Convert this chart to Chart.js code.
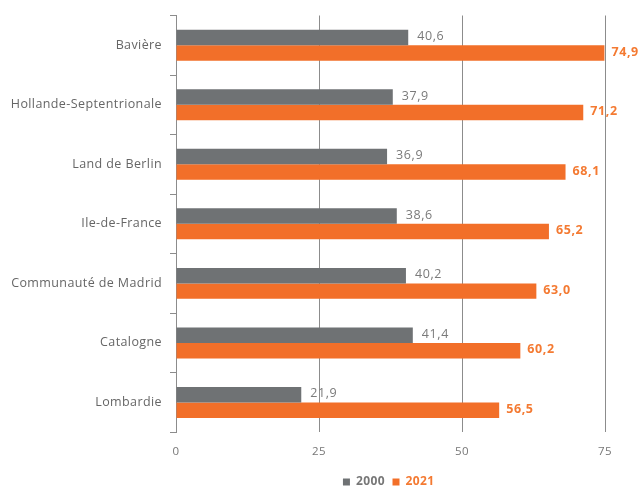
<!DOCTYPE html>
<html>
<head>
<meta charset="utf-8">
<style>
  html, body { margin: 0; padding: 0; background: #fff; }
  #wrap { width: 643px; height: 487px; position: relative; }
</style>
<script src="https://cdn.jsdelivr.net/npm/chart.js@4"></script>
</head>
<body>
<div id="wrap"><canvas id="chart"></canvas></div>
<script>
'use strict';

const regions = ['Bavière', 'Hollande-Septentrionale', 'Land de Berlin', 'Ile-de-France',
  'Communauté de Madrid', 'Catalogne', 'Lombardie'];
const values2000 = [40.6, 37.9, 36.9, 38.6, 40.2, 41.4, 21.9];
const values2021 = [74.9, 71.2, 68.1, 65.2, 63.0, 60.2, 56.5];
const xTicks = [0, 25, 50, 75];

const grey = '#6f7274';
const orange = '#f26f29';
const font = 'Open Sans';

// the text in the source is a bit spaced out
const spacing = {
  id: 'spacing',
  beforeLayout(chart) { chart.ctx.letterSpacing = '0.4px'; },
  beforeDraw(chart) { chart.ctx.letterSpacing = '0.4px'; }
};

// value labels at the end of each bar
const barLabels = {
  id: 'barLabels',
  afterDatasetsDraw(chart) {
    const ctx = chart.ctx;
    chart.data.datasets.forEach((ds, i) => {
      const meta = chart.getDatasetMeta(i);
      ctx.save();
      ctx.letterSpacing = '0.6px';
      ctx.font = (i === 1 ? 'bold ' : '') + '12.5px "' + font + '"';
      ctx.fillStyle = i === 1 ? '#f47a32' : '#7a7a7a';
      ctx.textBaseline = 'middle';
      ctx.textAlign = 'left';
      meta.data.forEach((bar, j) => {
        let txt = ds.data[j].toFixed(1).replace('.', ',');
        ctx.fillText(txt, bar.x + (i === 1 ? 7 : 9), bar.y - 1);
      });
      ctx.restore();
    });
  }
};

new Chart(document.getElementById('chart'), {
  type: 'bar',
  data: {
    labels: regions,
    datasets: [
      { label: '2000', data: values2000, backgroundColor: grey },
      { label: '2021', data: values2021, backgroundColor: orange }
    ]
  },
  options: {
    indexAxis: 'y',
    responsive: true,
    maintainAspectRatio: false,
    animation: false,
    datasets: { bar: { categoryPercentage: 0.52, barPercentage: 1 } },
    layout: { padding: { top: 14, right: 38, left: 0, bottom: -11 } },
    scales: {
      x: {
        min: 0,
        max: 75,
        afterBuildTicks: axis => { axis.ticks = xTicks.map(v => ({ value: v })); },
        grid: {
          color: ctx => ctx.tick && ctx.tick.value === 0 ? 'rgba(0,0,0,0)' : '#8c8c8c',
          drawTicks: false
        },
        border: { display: false },
        ticks: { color: '#777', font: { family: font, size: 11.5 }, padding: 13 }
      },
      y: {
        afterFit: scale => { scale.width = 176; },
        grid: { drawOnChartArea: false, tickLength: 6, color: '#8c8c8c' },
        border: { display: true, color: '#8c8c8c' },
        ticks: { color: '#666', font: { family: font, size: 12.5 }, padding: 8 }
      }
    },
    plugins: {
      legend: {
        position: 'bottom',
        fullSize: false,
        labels: {
          boxWidth: 7,
          boxHeight: 7,
          padding: 4,
          font: { family: font, size: 12, weight: 'bold' },
          generateLabels: chart => chart.data.datasets.map((ds, i) => ({
            text: ds.label + ' ',
            fillStyle: ds.backgroundColor,
            strokeStyle: ds.backgroundColor,
            lineWidth: 0,
            fontColor: i === 1 ? '#f47a32' : '#777',
            datasetIndex: i
          }))
        }
      },
      tooltip: { enabled: false }
    }
  },
  plugins: [spacing, barLabels]
});
</script>
</body>
</html>
